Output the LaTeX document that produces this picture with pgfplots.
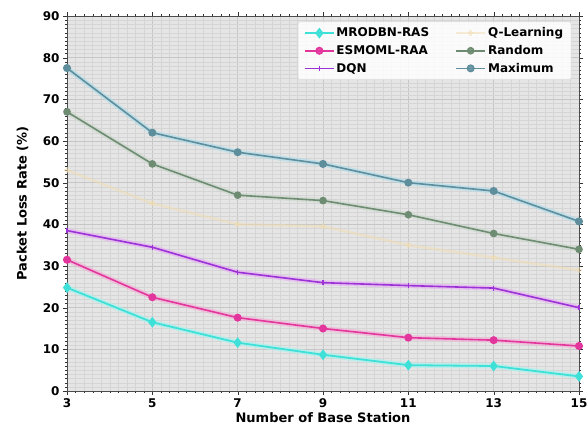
\documentclass[border=0pt]{standalone}
\usepackage{fontspec}
\setmainfont{DejaVu Sans}
\usepackage{pgfplots}
\usepackage{pgfplotstable}
\pgfplotsset{compat=1.18}
\definecolor{cMro}{HTML}{3FE0D8}
\definecolor{cEsm}{HTML}{E2369C}
\definecolor{cDqn}{HTML}{9A32D6}
\definecolor{cQl}{HTML}{F2DDB0}
\definecolor{cRnd}{HTML}{6E8C72}
\definecolor{cMax}{HTML}{5E8E9C}
\definecolor{gMro}{HTML}{A8F2EE}
\definecolor{gEsm}{HTML}{F4A8D4}
\definecolor{gDqn}{HTML}{E8A8F4}
\definecolor{gRnd}{HTML}{C4D4C6}
\definecolor{gMax}{HTML}{A8DCEC}

\pgfplotstableread{
x  mro  esm  dqn  ql   rnd  mx
3  24.8 31.5 38.5 53.0 67.0 77.5
5  16.5 22.5 34.5 45.0 54.5 62.0
7  11.6 17.6 28.5 40.0 47.0 57.3
9  8.7  15.0 26.0 39.5 45.7 54.5
11 6.2  12.8 25.3 35.0 42.3 50.0
13 6.0  12.2 24.7 32.0 37.8 48.0
15 3.5  10.8 20.0 29.0 34.0 40.7
}\data

\begin{document}
\begin{tikzpicture}
\begin{axis}[
  width=512pt, height=375pt, scale only axis,
  xmin=3, xmax=15, ymin=0, ymax=90,
  xtick={3,5,...,15}, ytick={0,10,...,90},
  minor x tick num=9, minor y tick num=9,
  axis background/.style={fill=gray!20},
  grid=both,
  major grid style={gray!45, line width=0.5pt},
  minor grid style={gray!33, line width=0.3pt},
  axis line style={gray!60!black, line width=0.8pt},
  tick align=outside,
  major tick length=4pt, minor tick length=2pt,
  tick style={black!80},
  /pgf/number format/assume math mode=true,
  ticklabel style={font=\bfseries\fontsize{12}{14}\selectfont},
  label style={font=\bfseries\fontsize{13}{15}\selectfont},
  xlabel={Number of Base Station},
  ylabel={Packet Loss Rate (\%)},
  xlabel style={yshift=2pt},
  ylabel style={at={(axis description cs:-0.087,0.5)}, anchor=center},
  legend columns=3, transpose legend,
  legend cell align=left,
  legend style={at={(0.985,0.985)}, anchor=north east,
    fill=white, fill opacity=0.85, text opacity=1, draw=gray!30,
    rounded corners=2pt, inner xsep=6pt, inner ysep=4pt,
    font=\bfseries\fontsize{12}{14}\selectfont,
    /tikz/every even column/.append style={column sep=24pt},
    row sep=3pt},
  legend image code/.code={\draw[mark repeat=2,mark phase=2] plot coordinates {(0cm,0cm)(0.5cm,0cm)(1cm,0cm)};},
]
% glow
\addplot[forget plot, gMro, line width=5pt, opacity=0.7] table[x=x,y=mro]{\data};
\addplot[forget plot, gEsm, line width=5pt, opacity=0.6] table[x=x,y=esm]{\data};
\addplot[forget plot, gDqn, line width=5pt, opacity=0.6] table[x=x,y=dqn]{\data};
\addplot[forget plot, gRnd, line width=5pt, opacity=0.5] table[x=x,y=rnd]{\data};
\addplot[forget plot, gMax, line width=5pt, opacity=0.6] table[x=x,y=mx]{\data};
% main
\addplot[cMro, line width=1.8pt, mark=diamond*, mark size=4pt] table[x=x,y=mro]{\data};
\addlegendentry{MRODBN-RAS}
\addplot[cEsm, line width=1.6pt, mark=*, mark size=3.2pt] table[x=x,y=esm]{\data};
\addlegendentry{ESMOML-RAA}
\addplot[cDqn, line width=1.6pt, mark=|, mark size=2.5pt] table[x=x,y=dqn]{\data};
\addlegendentry{DQN}
\addplot[cQl, line width=2.5pt, opacity=0.5, mark=+, mark size=3pt] table[x=x,y=ql]{\data};
\addlegendentry{Q-Learning}
\addplot[cRnd, line width=1.6pt, mark=*, mark size=3pt] table[x=x,y=rnd]{\data};
\addlegendentry{Random}
\addplot[cMax, line width=1.6pt, mark=*, mark size=3.2pt] table[x=x,y=mx]{\data};
\addlegendentry{Maximum}
\end{axis}
\pgfresetboundingbox
\path ([xshift=-67pt,yshift=-44pt]current axis.south west) rectangle ([xshift=9pt,yshift=16pt]current axis.north east);
\end{tikzpicture}
\end{document}
